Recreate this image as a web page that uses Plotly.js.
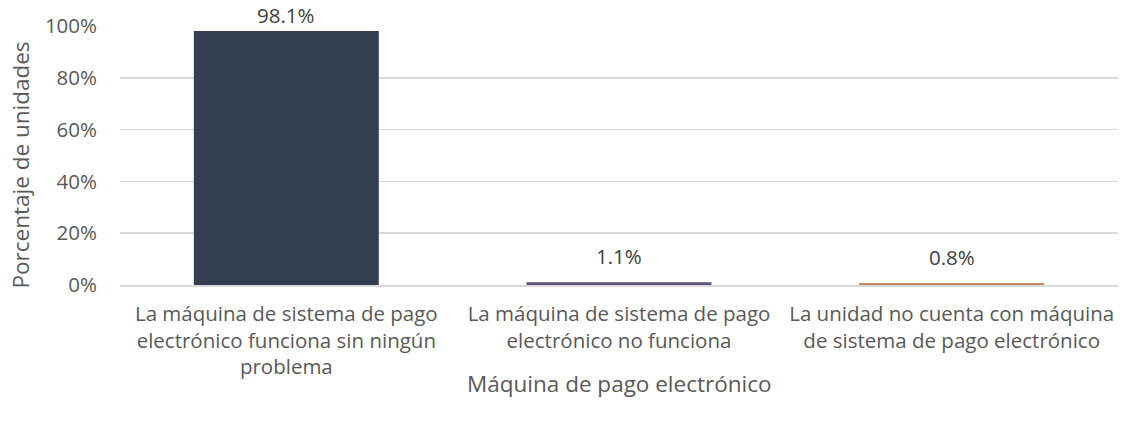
<!DOCTYPE html>
<html><head><meta charset="utf-8">
<script src="https://cdn.plot.ly/plotly-3.0.1.min.js"></script>
<style>body{margin:0}</style></head>
<body><div id="chart" style="width:1123px;height:427px"></div>
<script>
const categories = [
  "La máquina de sistema de pago<br>electrónico funciona sin ningún<br>problema",
  "La máquina de sistema de pago<br>electrónico no funciona",
  "La unidad no cuenta con máquina<br>de sistema de pago electrónico"
];
const values = [98.1, 1.1, 0.8];
const labels = ["98.1%", "1.1%", "0.8%"];
const colors = ["#333F50", "#5E5273", "#BE8A6C"];
const yTicks = [0, 20, 40, 60, 80, 100];
const yTickText = ["0%", "20%", "40%", "60%", "80%", "100%"];
const xTitle = "Máquina de pago electrónico";
const yTitle = "Porcentaje de unidades";

const font = "Open Sans, Liberation Sans, sans-serif";
const annotations = values.map((v, i) => ({
  x: categories[i], y: v, xref: "x", yref: "y", text: labels[i],
  showarrow: false, yanchor: "bottom", yshift: v > 90 ? 0 : 10,
  font: {family: font, size: 20.5, color: "#404040"}
}));
annotations.push({
  text: yTitle, xref: "paper", yref: "paper", x: 0, y: 0.5,
  xanchor: "center", yanchor: "middle", xshift: -100, yshift: -10,
  textangle: -90, showarrow: false,
  font: {family: font, size: 22.5, color: "#595959"}
});
annotations.push({
  text: xTitle, xref: "paper", yref: "paper", x: 0.5, y: 0,
  xanchor: "center", yanchor: "middle", yshift: -98, showarrow: false,
  font: {family: font, size: 22.5, color: "#595959"}
});
Plotly.newPlot("chart", [{
  type: "bar", x: categories, y: values,
  marker: {color: colors}, width: 0.556, hoverinfo: "none"
}], {
  width: 1123, height: 427,
  margin: {l: 120, r: 5, t: 26, b: 142},
  paper_bgcolor: "#fff", plot_bgcolor: "#fff",
  font: {family: font, size: 20.5, color: "#595959"},
  showlegend: false,
  annotations: annotations,
  xaxis: {
    tickfont: {family: font, size: 20.5, color: "#595959"},
    showline: true, linecolor: "#D9D9D9", linewidth: 1.5,
    ticks: "", automargin: false, ticklabelstandoff: 10
  },
  yaxis: {
    range: [0, 100], tickvals: yTicks, ticktext: yTickText,
    tickfont: {family: font, size: 20.5, color: "#595959"},
    gridcolor: "#D9D9D9", gridwidth: 1.5, zeroline: false, ticks: "", ticklen: 0,
    automargin: false, ticklabelstandoff: 22
  }
}, {displayModeBar: false, staticPlot: true});
</script></body></html>
